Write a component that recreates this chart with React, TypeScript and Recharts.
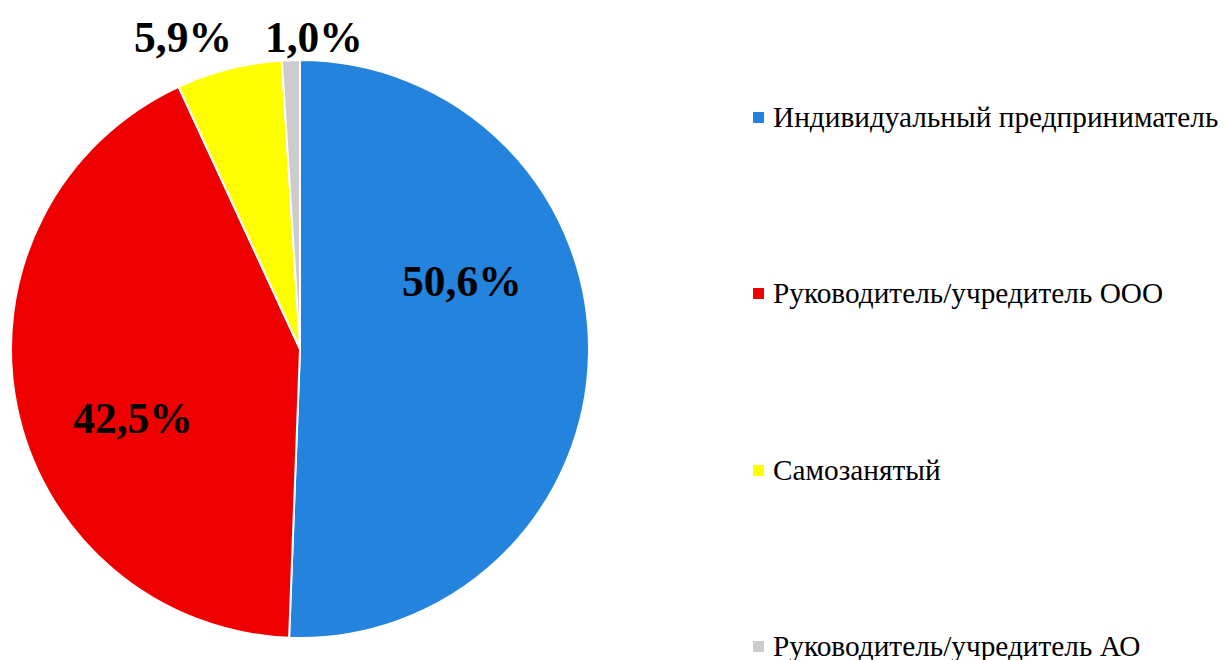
import React from "react";
import { PieChart, Pie, Cell, Legend } from "recharts";

const categories = [
  "Индивидуальный предприниматель",
  "Руководитель/учредитель ООО",
  "Самозанятый",
  "Руководитель/учредитель АО",
];
const values = [50.6, 42.5, 5.9, 1.0];
const labels = ["50,6%", "42,5%", "5,9%", "1,0%"];
const colors = ["#2383DD", "#EE0000", "#FFFF00", "#CCCCCC"];

const data = categories.map((name, i) => ({ name, value: values[i], label: labels[i] }));

// label offsets relative to center, in fractions of the outer radius
const labelOffsets = [
  [0.56, -0.235],
  [-0.578, 0.239],
  [-0.405, -1.08],
  [0.048, -1.08],
];

const renderLabel = (props: any) => {
  const { cx, cy, outerRadius, index } = props;
  const [fx, fy] = labelOffsets[index];
  const x = cx + fx * outerRadius;
  const y = cy + fy * outerRadius;
  return (
    <text
      x={x}
      y={y}
      textAnchor="middle"
      dominantBaseline="central"
      fontFamily="'Liberation Serif', 'Times New Roman', serif"
      fontWeight="bold"
      fontSize={43.5}
      fill="#000"
    >
      {labels[index]}
    </text>
  );
};

const renderLegend = () => (
  <div style={{ fontFamily: "'Liberation Serif', 'Times New Roman', serif", fontSize: 29.3, color: "#000" }}>
    {data.map((d, i) => (
      <div
        key={d.name}
        style={{ display: "flex", alignItems: "center", height: 34, marginBottom: i < data.length - 1 ? 142.5 : 0, whiteSpace: "nowrap" }}
      >
        <span style={{ display: "inline-block", width: 11, height: 11, background: colors[i], marginRight: 9 }} />
        <span>{d.name}</span>
      </div>
    ))}
  </div>
);

export default function App() {
  return (
    <div style={{ position: "absolute", left: 0, top: 0, width: 1223, height: 660, background: "#fff", overflow: "hidden" }}>
      <PieChart width={1223} height={660} margin={{ top: 0, right: 0, bottom: 0, left: 0 }}>
        <Pie
          data={data}
          dataKey="value"
          nameKey="name"
          cx={300}
          cy={349}
          outerRadius={289}
          startAngle={90}
          endAngle={-270}
          stroke="#fff"
          strokeWidth={2}
          label={renderLabel}
          labelLine={false}
          isAnimationActive={false}
        >
          {data.map((d, i) => (
            <Cell key={d.name} fill={colors[i]} />
          ))}
        </Pie>
        <Legend
          content={renderLegend}
          wrapperStyle={{ position: "absolute", left: 753, top: 100, width: 470 }}
        />
      </PieChart>
    </div>
  );
}
